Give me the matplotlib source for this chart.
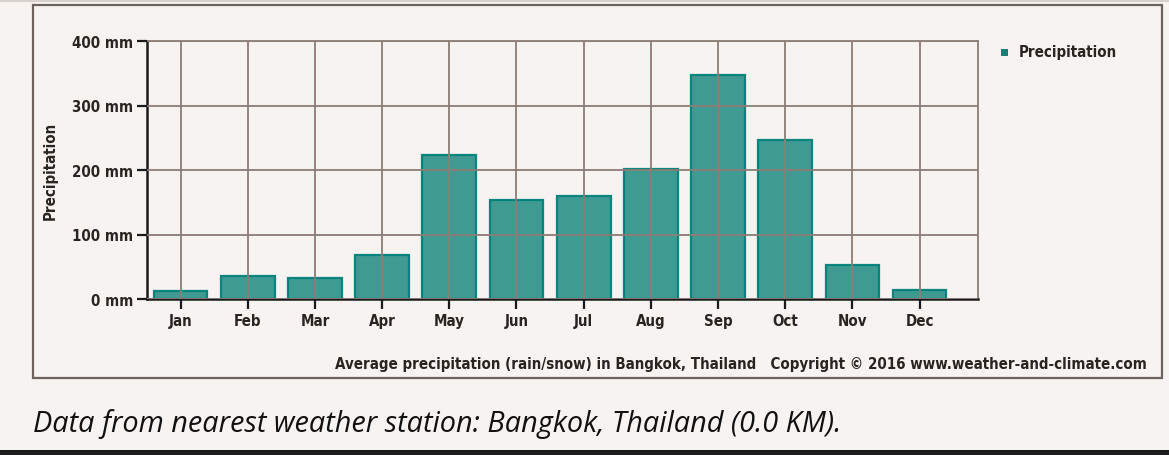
import matplotlib

matplotlib.use("Agg")
import matplotlib.pyplot as plt
from matplotlib.patches import Rectangle

months = ["Jan", "Feb", "Mar", "Apr", "May", "Jun", "Jul", "Aug", "Sep", "Oct", "Nov", "Dec"]
precip_mm = [13, 35, 33, 68, 224, 153, 159, 201, 348, 246, 52, 14]
y_ticks = [0, 100, 200, 300, 400]
y_tick_labels = ["0 mm", "100 mm", "200 mm", "300 mm", "400 mm"]

W, H = 1169, 456
BG = "#f6f3f1"
GRID = "#8c7d76"
BAR_FACE = "#35958d"
BAR_EDGE = "#00807a"
FONT = dict(family="DejaVu Sans", fontstretch="condensed", weight="bold", color="#2a2420")

fig = plt.figure(figsize=(W / 100, H / 100), dpi=100, facecolor=BG)

# outer frame of the chart image (kept behind the axes)
fig.patches.append(Rectangle((33 / W, 1 - 379 / H), (1162 - 33) / W, (379 - 6) / H,
                             transform=fig.transFigure, facecolor=BG,
                             edgecolor="#6e625c", linewidth=1.6, zorder=-5))
# thin band at top and dark band at bottom
fig.patches.append(Rectangle((0, 1 - 3 / H), 1, 3 / H, transform=fig.transFigure,
                             facecolor="#d8d0cc", edgecolor="none", zorder=-5))
fig.patches.append(Rectangle((0, 0), 1, 5 / H, transform=fig.transFigure,
                             facecolor="#1c1c1c", edgecolor="none", zorder=-5))

ax = fig.add_axes([147 / W, 1 - 300 / H, (978 - 147) / W, (300 - 42) / H])
ax.set_facecolor(BG)
x = list(range(len(months)))
ax.bar(x, precip_mm, width=0.8, color=BAR_FACE, edgecolor=BAR_EDGE, linewidth=1.6,
       alpha=0.95, zorder=2)
ax.set_xlim(-0.5, 11.87)
ax.set_ylim(0, 400)
ax.set_xticks(x)
ax.set_xticklabels(months, fontsize=10.8, **FONT)
ax.set_yticks(y_ticks)
ax.set_yticklabels(y_tick_labels, fontsize=10.8, **FONT)
ax.tick_params(axis="both", direction="out", length=7, width=1.6, color="#1a1a1a", pad=3)
ax.grid(True, color=GRID, linewidth=1.3, zorder=3)
ax.set_axisbelow(False)
for s in ["left", "bottom"]:
    ax.spines[s].set_color("#1a1a1a")
    ax.spines[s].set_linewidth(1.8)
for s in ["top", "right"]:
    ax.spines[s].set_color(GRID)
    ax.spines[s].set_linewidth(1.3)
ax.set_ylabel("Precipitation", fontsize=10.8, labelpad=10, **FONT)

# legend
fig.patches.append(Rectangle((1001 / W, 1 - 57 / H), 7 / W, 7 / H, transform=fig.transFigure,
                             facecolor="#1a7d78", edgecolor="none"))
fig.text(1019 / W, 1 - 53 / H, "Precipitation", fontsize=10.8, va="center", ha="left", **FONT)

fig.text(1147 / W, 1 - 364 / H,
         "Average precipitation (rain/snow) in Bangkok, Thailand   Copyright \u00a9 2016 www.weather-and-climate.com",
         fontsize=10.8, va="center", ha="right", **FONT)

fig.text(33 / W, 1 - 424 / H, "Data from nearest weather station: Bangkok, Thailand (0.0 KM).",
         fontsize=20.8, style="italic", family="Open Sans", color="#111111", va="center", ha="left")

fig.savefig("out.png", dpi=100, facecolor=BG)
